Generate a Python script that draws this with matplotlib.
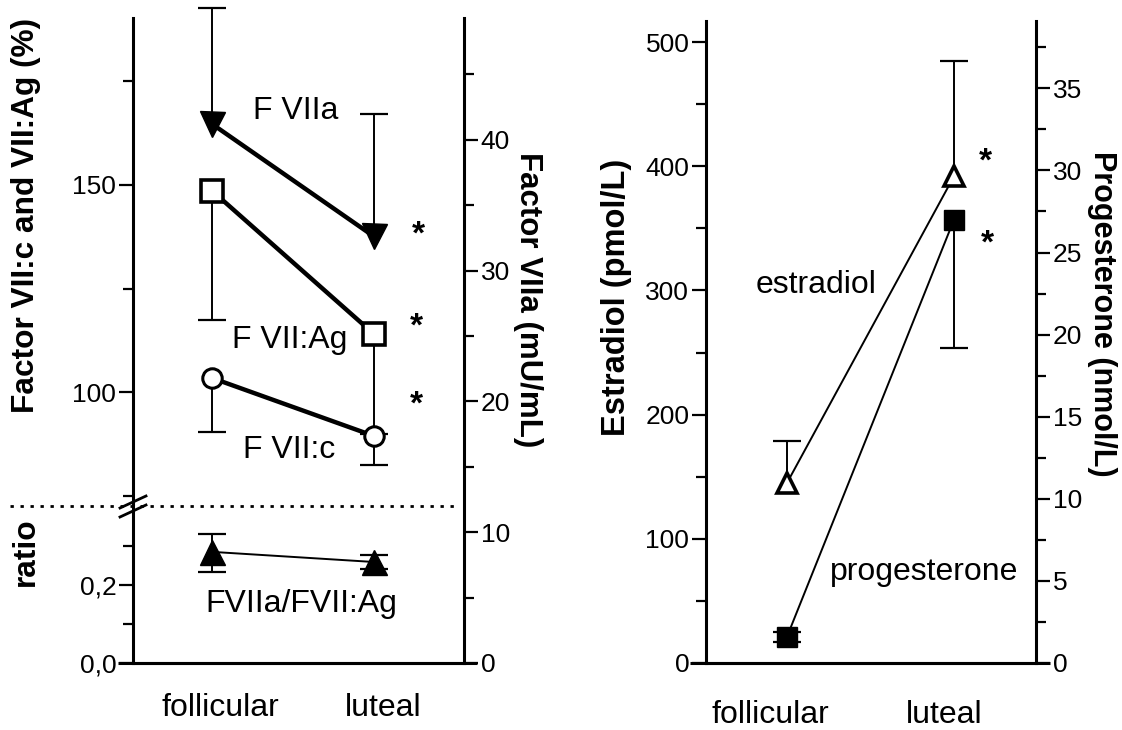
import matplotlib.pyplot as plt
from matplotlib.lines import Line2D
from matplotlib.ticker import MultipleLocator, FuncFormatter

plt.rcParams['font.family'] = ['Liberation Sans', 'DejaVu Sans']

phases = ["follicular", "luteal"]
xs = [0, 1]

# Factor VII:c and VII:Ag (%), left scale of the left panel
fvii_ag = [148.6, 114.0]
fvii_ag_lo = [31.2, 24.0]
fvii_c = [103.4, 89.4]
fvii_c_lo = [13.1, 7.0]
# Factor VIIa (mU/mL), right scale of the left panel
fviia = [41.2, 32.6]
fviia_hi = [8.9, 9.4]
# ratio FVIIa/FVII:Ag, lower part of the left panel
ratio = [0.285, 0.259]
ratio_lo = [0.052, 0.018]
ratio_hi = [0.046, 0.018]
# right panel
estradiol = [145, 392]
estradiol_hi = [34, 93]
progesterone = [1.6, 27.0]
progesterone_lo = [0.3, 7.8]
progesterone_hi = [0.3, 0.0]

W, H = 1122, 730
fig = plt.figure(figsize=(W / 100, H / 100), dpi=100)


def fx(px):
    return px / W


def fy(py):
    return 1 - py / H


FS = 23
TICK_FS = 19

L0, L1 = 133, 464
R0, R1 = 706, 1036
BOT, TOP_L, BRK, TOP_R = 663, 18, 506, 21

ax_hi = fig.add_axes([fx(L0), fy(BRK), fx(L1 - L0), (BRK - TOP_L) / H])
ax_lo = fig.add_axes([fx(L0), fy(BOT), fx(L1 - L0), (BOT - BRK) / H])
ax_va = fig.add_axes([fx(L0), fy(BOT), fx(L1 - L0), (BOT - TOP_L) / H])
ax_va.patch.set_visible(False)

ax_e = fig.add_axes([fx(R0), fy(BOT), fx(R1 - R0), (BOT - TOP_R) / H])
ax_p = ax_e.twinx()

for ax in (ax_hi, ax_lo, ax_va):
    ax.set_xlim(-0.488, 1.556)
for ax in (ax_e, ax_p):
    ax.set_xlim(-0.485, 1.491)

for ax in (ax_hi, ax_lo, ax_va, ax_e, ax_p):
    for s in ax.spines.values():
        s.set_linewidth(2.2)
        s.set_visible(False)
    ax.tick_params(which='major', length=10, width=1.6, labelsize=TICK_FS, pad=2)
    ax.tick_params(which='minor', length=7, width=1.6)
    ax.set_xticks([])

ax_hi.spines['left'].set_visible(True)
ax_lo.spines['left'].set_visible(True)
ax_lo.spines['bottom'].set_visible(True)
ax_va.spines['right'].set_visible(True)
ax_e.spines['left'].set_visible(True)
ax_e.spines['bottom'].set_visible(True)
ax_p.spines['right'].set_visible(True)

# y scales
ax_hi.set_ylim(72.5, 190.3)
ax_hi.yaxis.set_major_locator(MultipleLocator(50))
ax_hi.yaxis.set_minor_locator(MultipleLocator(25))

ax_lo.set_ylim(0, 0.4026)
ax_lo.set_yticks([0.0, 0.2])
ax_lo.set_yticks([0.1, 0.3], minor=True)
ax_lo.yaxis.set_major_formatter(FuncFormatter(lambda v, p: f"{v:.1f}".replace('.', ',')))

ax_va.set_ylim(0, 49.3)
ax_va.yaxis.tick_right()
ax_va.yaxis.set_major_locator(MultipleLocator(10))
ax_va.yaxis.set_minor_locator(MultipleLocator(5))
ax_va.tick_params(axis='y', which='both', left=False)

ax_e.set_ylim(0, 517)
ax_e.yaxis.set_major_locator(MultipleLocator(100))
ax_e.yaxis.set_minor_locator(MultipleLocator(50))
ax_p.set_ylim(0, 39.1)
ax_p.yaxis.set_major_locator(MultipleLocator(5))
ax_p.yaxis.set_minor_locator(MultipleLocator(2.5))

# phase names under each panel
for ax, offs, dy in ((ax_lo, (8, 9), -45), (ax_e, (-17, -10), -52)):
    for x, name, dx in zip(xs, phases, offs):
        ax.annotate(name, xy=(x, 0), xycoords=('data', 'axes fraction'),
                    xytext=(dx, dy), textcoords='offset pixels',
                    ha='center', va='center', fontsize=FS)


def ebar(ax, y, lo, hi):
    # error lines without caps, then caps only on the sides that have an error
    cont = ax.errorbar(xs, y, yerr=[lo, hi], fmt='none', ecolor='k',
                       elinewidth=1.4, capsize=0, zorder=2)
    for art in cont.lines[2]:
        art.set_clip_on(False)
    for x, yy, l, h in zip(xs, y, lo, hi):
        ends = [yy - l] * (l > 0) + [yy + h] * (h > 0)
        ax.plot([x] * len(ends), ends, ls='none', marker='_', ms=20, mew=1.6,
                color='k', zorder=2, clip_on=False)


# left panel data
ebar(ax_hi, fvii_ag, fvii_ag_lo, [0, 0])
ebar(ax_hi, fvii_c, fvii_c_lo, [0, 0])
ax_hi.plot(xs, fvii_ag, '-', color='k', lw=3.2, marker='s', ms=16, mfc='white',
           mec='k', mew=2.6, zorder=3, clip_on=False)
ax_hi.plot(xs, fvii_c, '-', color='k', lw=3.2, marker='o', ms=14, mfc='white',
           mec='k', mew=2.2, zorder=3, clip_on=False)

ebar(ax_va, fviia, [0, 0], fviia_hi)
ax_va.plot(xs, fviia, '-', color='k', lw=3.2, marker='v', ms=18, mfc='k',
           mec='k', zorder=3, clip_on=False)

ebar(ax_lo, ratio, ratio_lo, ratio_hi)
ax_lo.plot(xs, ratio, '-', color='k', lw=1.4, marker='^', ms=18, mfc='k',
           mec='k', zorder=3, clip_on=False)

# right panel data
ebar(ax_e, estradiol, [0, 0], estradiol_hi)
ax_e.plot(xs, estradiol, '-', color='k', lw=1.4, marker='^', ms=15, mfc='white',
          mec='k', mew=2.6, zorder=3, clip_on=False)
ebar(ax_p, progesterone, progesterone_lo, progesterone_hi)
ax_p.plot(xs, progesterone, '-', color='k', lw=1.4, marker='s', ms=14, mfc='k',
          mec='k', zorder=3, clip_on=False)

# extended baselines
ax_lo.plot([-0.045, 1.04], [0, 0], transform=ax_lo.transAxes, color='k', lw=2.2,
           clip_on=False, solid_capstyle='butt')
ax_e.plot([-0.048, 1.042], [0, 0], transform=ax_e.transAxes, color='k', lw=2.2,
          clip_on=False, solid_capstyle='butt')

# dotted separator and axis break
fig.add_artist(Line2D([fx(10), fx(456)], [fy(BRK), fy(BRK)], transform=fig.transFigure,
                      color='k', lw=2, ls=(0, (1.2, 2.4))))
for dy in (-4, 5):
    fig.add_artist(Line2D([fx(120), fx(146)], [fy(BRK + dy + 6), fy(BRK + dy - 6)],
                          transform=fig.transFigure, color='k', lw=2))

# axis titles
fig.text(fx(26), fy(215), "Factor VII:c and VII:Ag (%)", rotation=90, ha='center',
         va='center', fontsize=22.8, fontweight='bold')
fig.text(fx(26), fy(552), "ratio", rotation=90, ha='center', va='center',
         fontsize=22.8, fontweight='bold')
fig.text(fx(528), fy(300), "Factor VIIa (mU/mL)", rotation=-90, ha='center',
         va='center', fontsize=22.5, fontweight='bold')
fig.text(fx(617), fy(297), "Estradiol (pmol/L)", rotation=90, ha='center',
         va='center', fontsize=23.5, fontweight='bold')
fig.text(fx(1102), fy(314), "Progesterone (nmol/L)", rotation=-90, ha='center',
         va='center', fontsize=22, fontweight='bold')

# series labels
for txt, x, y in (("F VIIa", 296, 111), ("F VII:Ag", 290, 340), ("F VII:c", 289, 450),
                  ("FVIIa/FVII:Ag", 301, 604), ("estradiol", 816, 285),
                  ("progesterone", 924, 572)):
    fig.text(fx(x), fy(y), txt, ha='center', va='center', fontsize=FS)

# significance stars
for x, y in ((418, 228), (416, 320), (416, 398), (985, 155), (987, 237)):
    fig.text(fx(x), fy(y + 7), "*", ha='center', va='center', fontsize=24,
             fontweight='bold')

fig.savefig("out.png", dpi=100)
